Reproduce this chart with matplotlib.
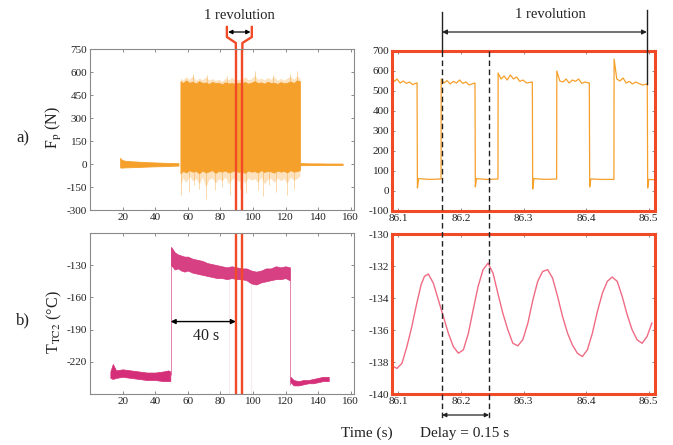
import matplotlib
matplotlib.use("Agg")
import matplotlib.pyplot as plt
from matplotlib.lines import Line2D
from matplotlib.patches import FancyArrowPatch
from matplotlib.transforms import blended_transform_factory as btf

# ---------------- data ----------------
# a) left: low-level section (envelope)
fa_low_x = [18.5, 19.5, 21, 25, 30, 35, 40, 45, 50, 54.3]
fa_low_up = [40, 28, 22, 18, 15, 12, 10, 8, 6, 5]
fa_low_lo = [-22, -24, -22, -21, -19, -17, -15, -14, -12, -10]
# a) left: loaded section (envelope of dense oscillation)
fa_big_x = [55.5, 57, 59, 61, 63, 65, 67, 69, 71, 73, 75, 77, 79, 81, 83, 85, 87,
            89, 91, 93, 95, 97, 99, 101, 103, 105, 107, 109, 111, 113, 115, 117,
            119, 121, 123, 125, 127, 128.8]
fa_big_up = [540, 528, 545, 530, 536, 525, 540, 528, 532, 522, 535, 527, 530, 520,
             533, 525, 528, 522, 530, 526, 535, 524, 530, 540, 528, 532, 524, 536,
             528, 530, 522, 534, 526, 530, 538, 528, 545, 540]
fa_big_lo = [-60, -45, -55, -40, -50, -45, -60, -42, -55, -48, -40, -58, -45, -50,
             -42, -55, -48, -40, -52, -45, -58, -42, -50, -46, -55, -40, -52, -45,
             -48, -56, -42, -50, -45, -55, -40, -50, -46, -40]
# lighter fringe of the oscillation (outer envelope)
fa_frg_up = [560, 548, 570, 552, 575, 545, 560, 550, 568, 548, 556, 545, 552, 540,
             560, 548, 566, 545, 552, 548, 570, 550, 556, 580, 552, 560, 548, 565,
             552, 570, 545, 558, 548, 560, 572, 552, 575, 560]
fa_frg_lo = [-140, -90, -120, -80, -110, -95, -130, -85, -150, -100, -90, -125,
             -95, -110, -85, -130, -100, -90, -115, -95, -125, -90, -105, -95,
             -120, -85, -130, -100, -95, -120, -90, -110, -95, -125, -85, -105,
             -95, -80]
# spikes beyond the fringe
fa_spk_up_x = [63, 72, 84, 101, 112, 123, 127]
fa_spk_up_v = [590, 580, 575, 605, 580, 590, 605]
fa_spk_lo_x = [56, 61, 64, 67, 71, 77, 81, 86, 92, 96, 103, 106, 110, 114, 121,
               125]
fa_spk_lo_v = [-200, -180, -140, -160, -230, -170, -150, -200, -160, -190, -170,
               -210, -140, -180, -200, -160]
# after unloading
fa_end_x = [129, 135, 140, 145, 150, 155]
fa_end_up = [6, 4, 4, 3, 3, 3]
fa_end_lo = [-8, -7, -7, -7, -7, -7]

# b) left: temperature TC2 envelopes
tb_pre_x = [12.5, 14, 16, 20, 25, 30, 35, 40, 45, 48, 49.3]
tb_pre_up = [-229, -222, -228, -227, -228, -229, -230, -230, -229, -228, -229]
tb_pre_lo = [-235, -236, -235, -234, -235, -236, -237, -237, -238, -238, -238]
tb_mid_x = [49.8, 52, 54, 56, 58, 60, 63, 66, 69, 72, 75, 78, 81, 84, 87, 90, 93,
            96, 99, 102, 105, 108, 111, 114, 117, 120, 122.5]
tb_mid_up = [-113, -118, -120, -121, -122, -122, -124, -125, -126, -128, -129,
             -130, -131, -132, -131, -132, -133, -133, -135, -136, -135, -133,
             -133, -131, -132, -131, -132]
tb_mid_lo = [-130, -134, -133, -135, -136, -135, -137, -138, -139, -140, -141,
             -142, -142, -143, -142, -143, -143, -144, -147, -148, -146, -145,
             -144, -143, -143, -142, -144]
tb_post_x = [123, 125, 128, 131, 134, 137, 140, 143, 146.5]
tb_post_up = [-234, -237, -238, -237, -237, -236, -235, -234, -234]
tb_post_lo = [-239, -242, -242, -241, -240, -240, -239, -238, -238]
tb_jump_x = [49.5, 122.7]
tb_jump_lo = [-232, -242]
tb_jump_hi = [-113, -132]

# a) right: zoomed force signal
fz_t = [86.090, 86.094, 86.098, 86.103, 86.108, 86.113, 86.118, 86.123, 86.129,
        86.1300, 86.1306, 86.1325, 86.150, 86.1683,
        86.1686, 86.173, 86.178, 86.183, 86.188, 86.193, 86.198, 86.203, 86.208,
        86.213, 86.2222,
        86.2225, 86.2231, 86.2250, 86.240, 86.2592,
        86.2595, 86.264, 86.269, 86.274, 86.279, 86.284, 86.289, 86.294, 86.299,
        86.305, 86.3138,
        86.3141, 86.3147, 86.3165, 86.335, 86.3529,
        86.3532, 86.358, 86.363, 86.368, 86.373, 86.378, 86.383, 86.388, 86.393,
        86.398, 86.4048,
        86.4051, 86.4057, 86.4075, 86.425, 86.4444,
        86.4447, 86.449, 86.454, 86.459, 86.464, 86.469, 86.474, 86.479, 86.484,
        86.490, 86.4974,
        86.4977, 86.4983, 86.500, 86.510]
fz_f = [570, 548, 560, 540, 550, 538, 545, 532, 540,
        540, 15, 62, 58, 60,
        560, 540, 552, 535, 548, 540, 555, 538, 545, 530, 540,
        540, 20, 62, 58, 60,
        590, 560, 575, 555, 580, 560, 570, 548, 555, 540, 545,
        545, 10, 62, 58, 60,
        600, 550, 545, 560, 540, 555, 548, 560, 538, 545, 540,
        540, 20, 60, 58, 58,
        660, 560, 550, 565, 540, 548, 535, 545, 538, 530, 535,
        535, 15, 58, 56]

# b) right: zoomed temperature signal
tz_t = [86.0925, 86.098, 86.1059, 86.1138, 86.1217, 86.1296, 86.1365, 86.1418,
        86.148, 86.156, 86.164, 86.172, 86.180, 86.188, 86.196, 86.204, 86.212,
        86.2196, 86.2275, 86.2354, 86.2434, 86.2513, 86.259, 86.267, 86.275,
        86.283, 86.291, 86.299, 86.307, 86.315, 86.3227, 86.3306, 86.3386,
        86.3465, 86.3545, 86.3624, 86.3703, 86.378, 86.386, 86.394, 86.402,
        86.410, 86.418, 86.426, 86.4338, 86.4417, 86.4497, 86.4576, 86.4656,
        86.4735, 86.4815, 86.4894, 86.4973, 86.505]
tz_v = [-138.29, -138.4, -138.08, -137.04, -135.78, -134.32, -133.17, -132.65,
        -132.5, -133.07, -134.11, -135.16, -136.2, -137.04, -137.45, -137.24,
        -136.2, -134.74, -133.28, -132.23, -131.82, -132.44, -133.7, -134.95,
        -135.99, -136.83, -136.99, -136.6, -135.57, -134.11, -132.96, -132.34,
        -132.23, -132.76, -133.91, -135.16, -136.2, -136.93, -137.45, -137.66,
        -137.24, -136.2, -134.84, -133.7, -132.96, -132.69, -132.96, -133.9,
        -135.05, -135.99, -136.62, -136.83, -136.41, -135.57]

# ticks / annotations
left_xticks = [20, 40, 60, 80, 100, 120, 140, 160]
fa_yticks = [-300, -150, 0, 150, 300, 450, 600, 750]
tb_yticks = [-220, -190, -160, -130]
right_xticks = [86.1, 86.2, 86.3, 86.4, 86.5]
fz_yticks = [-100, 0, 100, 200, 300, 400, 500, 600, 700]
tz_yticks = [-140, -138, -136, -134, -132, -130]
rev_lines_left = [89.5, 93.5]
rev_funnel_x = [84.0, 99.3]
rev_start, rev_end = 86.17, 86.497
temp_peak = 86.245
heat_start = 49.5

# ---------------- style ----------------
plt.rcParams['font.family'] = ['Liberation Serif', 'DejaVu Serif']
plt.rcParams['mathtext.fontset'] = 'stix'
plt.rcParams['axes.unicode_minus'] = False
ORANGE = '#f6a02c'
RED = '#f04a26'
MAG = '#d42f78'
PINK = '#ef6b84'
TXT = '#222222'
TICKFS = 8

fig = plt.figure(figsize=(6.73, 4.45), dpi=100)
W, H = 673.0, 445.0
def rect(l, r, t, b):
    return [l / W, 1 - b / H, (r - l) / W, (b - t) / H]

ax_a = fig.add_axes(rect(90, 354, 49, 210))
ax_b = fig.add_axes(rect(90, 354, 233, 394))
ax_ar = fig.add_axes(rect(392, 655, 51, 211))
ax_br = fig.add_axes(rect(392, 655, 234, 394))

for ax in (ax_a, ax_b):
    for s in ax.spines.values():
        s.set_color('#8a8a8a'); s.set_linewidth(0.8)
    ax.set_xlim(0, 162)
    ax.set_xticks(left_xticks)
for ax in (ax_ar, ax_br):
    for s in ax.spines.values():
        s.set_color(RED); s.set_linewidth(2.2)
    ax.set_xlim(86.09, 86.51)
    ax.set_xticks(right_xticks)
for ax in (ax_a, ax_b, ax_ar, ax_br):
    ax.tick_params(direction='in', length=2.5, width=0.6, color='#777777',
                   labelsize=TICKFS, labelcolor=TXT, top=True, right=True, pad=2)

# --- a) left
ax_a.set_ylim(-300, 750)
ax_a.set_yticks(fa_yticks)
ax_a.fill_between(fa_low_x, fa_low_lo, fa_low_up, color=ORANGE, lw=0.6)
ax_a.fill_between(fa_big_x, fa_frg_lo, fa_frg_up, color=ORANGE, lw=0, alpha=0.3)
ax_a.fill_between(fa_big_x, fa_big_lo, fa_big_up, color=ORANGE, lw=0.6)
ax_a.vlines(fa_spk_up_x, 520, fa_spk_up_v, color=ORANGE, lw=0.6, alpha=0.5)
ax_a.vlines(fa_spk_lo_x, fa_spk_lo_v, -40, color=ORANGE, lw=0.6, alpha=0.45)
ax_a.fill_between(fa_end_x, fa_end_lo, fa_end_up, color=ORANGE, lw=0.6)
for x in rev_lines_left:
    ax_a.axvline(x, color=RED, lw=1.7)
    ax_b.axvline(x, color=RED, lw=1.7)

# funnel above a)
tr = btf(ax_a.transData, ax_a.transAxes)
y_top = (210 - 27) / 161.0
y_mid = (210 - 37) / 161.0
y_low = (210 - 43) / 161.0
for xin, xout in ((rev_lines_left[0], rev_funnel_x[0]), (rev_lines_left[1], rev_funnel_x[1])):
    ax_a.add_line(Line2D([xin, xin, xout, xout], [1.0, y_low, y_mid, y_top],
                         transform=tr, color=RED, lw=1.7, clip_on=False))
y_arr = (210 - 32) / 161.0
ax_a.annotate('', xy=(rev_funnel_x[0] + 0.8, y_arr), xytext=(rev_funnel_x[1] - 0.8, y_arr),
              xycoords=tr, textcoords=tr,
              arrowprops=dict(arrowstyle='<|-|>', color='black', lw=0.9,
                              mutation_scale=6, shrinkA=0, shrinkB=0))
ax_a.text(91.5, (210 - 15) / 161.0, '1 revolution', transform=tr, ha='center',
          va='center', fontsize=10.5, color=TXT)

# --- b) left
ax_b.set_ylim(-250, -100)
ax_b.set_yticks(tb_yticks)
ax_b.fill_between(tb_pre_x, tb_pre_lo, tb_pre_up, color=MAG, lw=0.5)
ax_b.fill_between(tb_mid_x, tb_mid_lo, tb_mid_up, color=MAG, lw=0.5, alpha=0.92)
ax_b.fill_between(tb_post_x, tb_post_lo, tb_post_up, color=MAG, lw=0.5)
ax_b.vlines(tb_jump_x, tb_jump_lo, tb_jump_hi, color=MAG, lw=0.7, alpha=0.6)
ax_b.vlines([85, 98.5], -250, -140, color=MAG, lw=0.5, alpha=0.15)
ax_b.annotate('', xy=(heat_start, -182.5), xytext=(rev_lines_left[0], -182.5),
              arrowprops=dict(arrowstyle='<|-|>', color='black', lw=1.0,
                              mutation_scale=7, shrinkA=0, shrinkB=0))
ax_b.text(71.5, -196, '40 s', ha='center', va='center', fontsize=11.5, color=TXT)

# --- a) right
ax_ar.set_ylim(-100, 700)
ax_ar.set_yticks(fz_yticks)
ax_ar.plot(fz_t, fz_f, color=ORANGE, lw=0.9)

# --- b) right
ax_br.set_ylim(-140, -130)
ax_br.set_yticks(tz_yticks)
ax_br.plot(tz_t, tz_v, color=PINK, lw=1.0)

# --- revolution / delay markers on right side
trf = btf(ax_ar.transData, fig.transFigure)
def fy(p):
    return 1 - p / H
fig.add_artist(Line2D([rev_start, rev_start], [fy(12), fy(51)], transform=trf,
                      color='#222222', lw=1.0))
fig.add_artist(Line2D([rev_end, rev_end], [fy(10), fy(84)], transform=trf,
                      color='#222222', lw=1.0))
for x in (rev_start, temp_peak):
    fig.add_artist(Line2D([x, x], [fy(51), fy(418)], transform=trf,
                          color='#222222', lw=1.0, ls=(0, (4, 2.5))))
fig.add_artist(FancyArrowPatch(
    (rev_start, fy(32)), (rev_end, fy(32)), transform=trf, arrowstyle='<|-|>',
    mutation_scale=7, color='#222222', lw=0.9, shrinkA=0, shrinkB=0))
fig.add_artist(FancyArrowPatch(
    (rev_start, fy(415)), (temp_peak, fy(415)), transform=trf, arrowstyle='<|-|>',
    mutation_scale=6, color='#222222', lw=0.9, shrinkA=0, shrinkB=0))
fig.text(550 / W, fy(14), '1 revolution', ha='center', va='center',
         fontsize=10.5, color=TXT)
fig.text(367 / W, fy(433), 'Time (s)', ha='center', va='center',
         fontsize=11, color=TXT)
fig.text(465 / W, fy(433), 'Delay = 0.15 s', ha='center', va='center',
         fontsize=11, color=TXT)

# --- panel labels
fig.text(23 / W, fy(138), 'a)', ha='center', va='center', fontsize=12, color=TXT)
fig.text(23 / W, fy(320), 'b)', ha='center', va='center', fontsize=12, color=TXT)
fig.text(54 / W, fy(128), r'F$_{\mathrm{p}}$ (N)', rotation=90, ha='center',
         va='center', fontsize=11.5, color=TXT)
fig.text(54 / W, fy(322), r'T$_{\mathrm{TC2}}$ (°C)', rotation=90, ha='center',
         va='center', fontsize=11.5, color=TXT)

fig.savefig('out.png', dpi=100, facecolor='white')
